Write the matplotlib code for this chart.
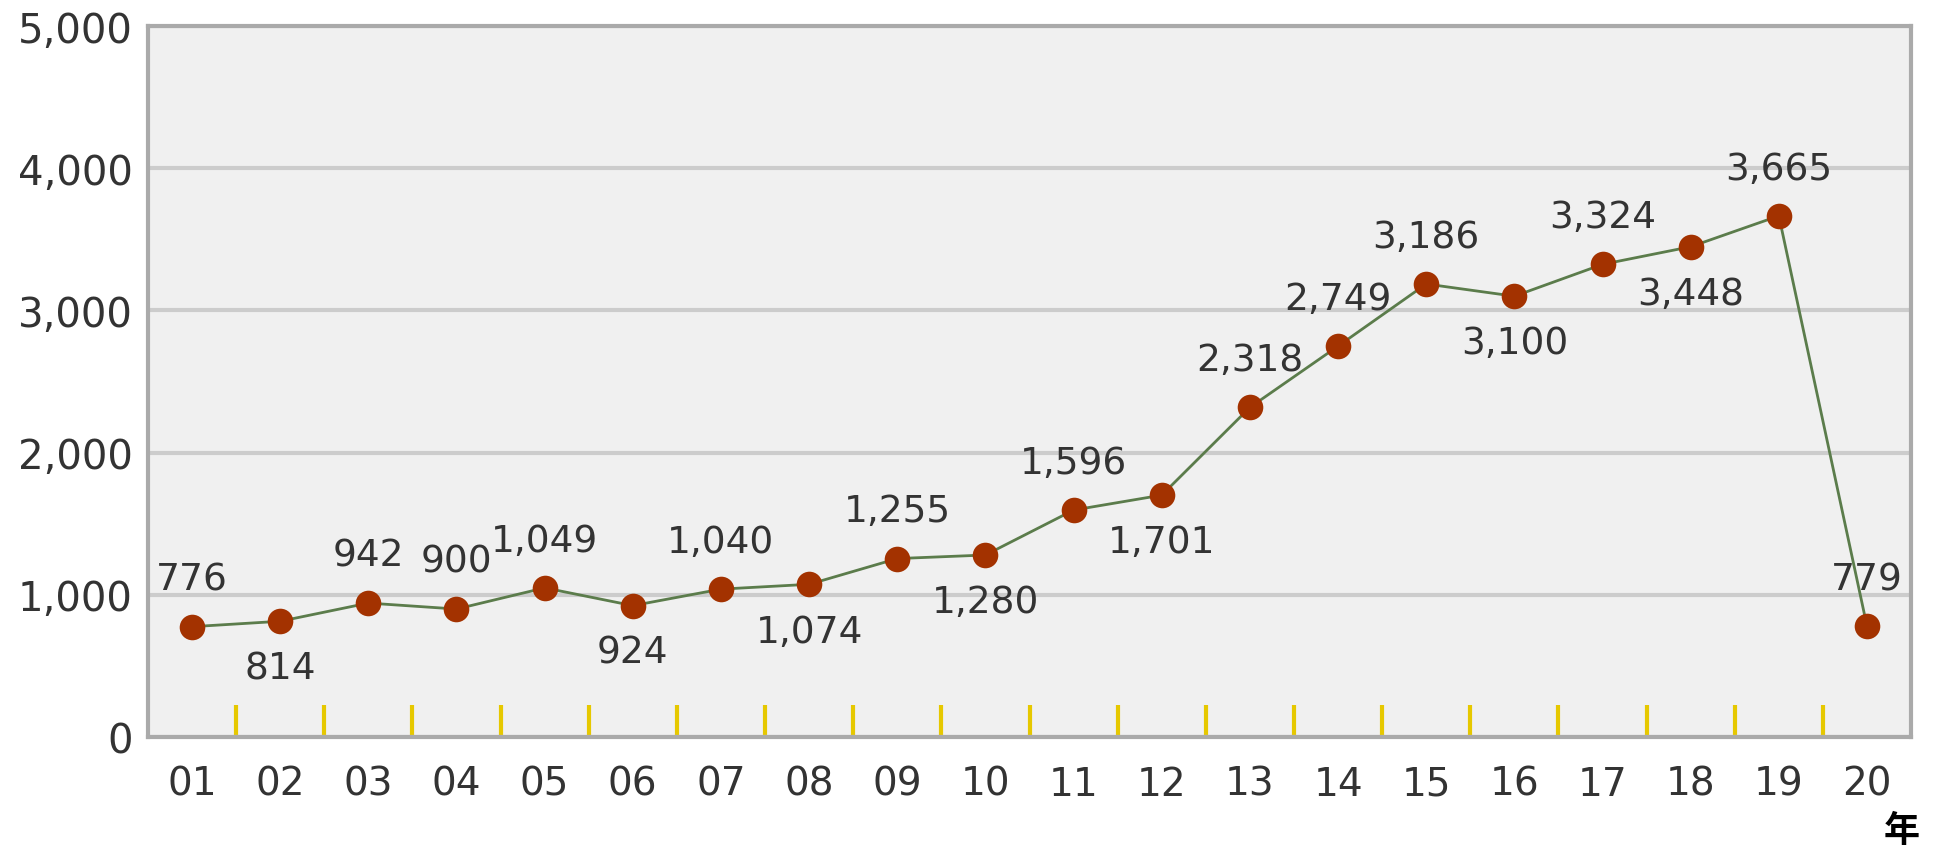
import matplotlib.pyplot as plt
import numpy as np

years = ["01", "02", "03", "04", "05", "06", "07", "08", "09", "10",
         "11", "12", "13", "14", "15", "16", "17", "18", "19", "20"]
values = [776, 814, 942, 900, 1049, 924, 1040, 1074, 1255, 1280,
          1596, 1701, 2318, 2749, 3186, 3100, 3324, 3448, 3665, 779]
# 1 = label above the point, -1 = below
label_side = [1, -1, 1, 1, 1, -1, 1, -1, 1, -1,
              1, -1, 1, 1, 1, -1, 1, -1, 1, 1]

plt.rcParams['font.family'] = ['DejaVu Sans', 'Noto Sans CJK JP']

fig = plt.figure(figsize=(19.39, 8.53), dpi=100)
ax = fig.add_axes([0.0763, 0.1348, 0.9093, 0.8335])
ax.set_facecolor('#f0f0f0')

x = np.arange(len(years)) + 0.5
ax.plot(x, values, color='#5b7c4b', linewidth=2, zorder=3)
ax.scatter(x, values, s=340, color='#a33200', zorder=4, linewidths=0)

for xi, v, side in zip(x, values, label_side):
    ax.annotate(f"{v:,}", (xi, v), xytext=(0, 34 * side), textcoords='offset points',
                ha='center', va='center', fontsize=27, color='#333333', zorder=5)

ax.set_xlim(0, len(years))
ax.set_ylim(0, 5000)
ax.set_yticks(range(0, 5001, 1000))
ax.set_yticklabels([f"{t:,}" for t in range(0, 5001, 1000)])
ax.yaxis.grid(True, color='#cccccc', linewidth=3)
ax.set_axisbelow(True)

# category labels under the middle of each slot, yellow ticks between them
ax.set_xticks(x)
ax.set_xticklabels(years)
ax.set_xticks(np.arange(1, len(years)), minor=True)
ax.tick_params(axis='x', which='major', length=0, pad=20, labelsize=28, labelcolor='#333333')
ax.tick_params(axis='x', which='minor', direction='in', length=23, width=3, color='#e6c800')
ax.tick_params(axis='y', length=0, pad=11, labelsize=29, labelcolor='#333333')

for s in ax.spines.values():
    s.set_color('#aaaaaa')
    s.set_linewidth(3)

fig.text(0.981, 0.025, "年", fontsize=26, ha='center', va='center',
         family=['Noto Sans CJK JP'], weight='bold', color='black')

fig.savefig("out.png", dpi=100)
